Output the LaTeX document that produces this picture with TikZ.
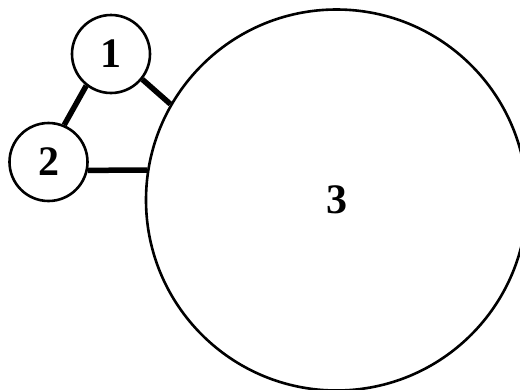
\documentclass[tikz,border=0pt]{standalone}
\usepackage{fontspec}
\setmainfont{Liberation Serif}
\begin{document}
\begin{tikzpicture}[x=1pt,y=-1pt,
  vertex/.style={circle,draw=black,line width=2.6pt,inner sep=0pt,
    font=\fontsize{42}{44}\selectfont\bfseries},
  link/.style={line width=5.5pt}]
\clip (0,0) rectangle (520,389);
\node[vertex,minimum size=78pt] (n1) at (111,54) {1};
\node[vertex,minimum size=78pt] (n2) at (48.5,162) {2};
\node[vertex,minimum size=381pt] (n3) at (336.5,200) {3};
\draw[link] (n1.232) -- (n2.67);
\draw[link] (n1.321) -- (n3.150);
\draw[link] (n2.-12) -- (n3.171);
\end{tikzpicture}
\end{document}
